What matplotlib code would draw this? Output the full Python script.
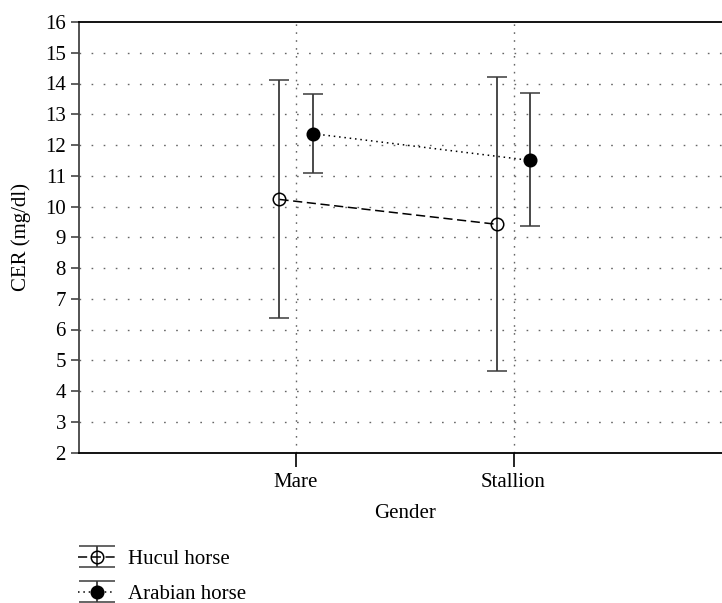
import matplotlib
matplotlib.use("Agg")
import matplotlib.pyplot as plt
import numpy as np

categories = ["Mare", "Stallion"]
hucul_mean = [10.23, 9.42]
hucul_upper = [14.13, 14.22]
hucul_lower = [6.39, 4.66]
arabian_mean = [12.37, 11.50]
arabian_upper = [13.66, 13.70]
arabian_lower = [11.08, 9.35]
yticks = list(range(2, 17))

plt.rcParams['font.family'] = ['Liberation Serif', 'DejaVu Serif']
plt.rcParams['font.size'] = 15

W, H = 722, 603
fig = plt.figure(figsize=(W / 100, H / 100), dpi=100)
left, right, top, bottom = 78.5, 731, 22, 452.5
ax = fig.add_axes([left / W, (H - bottom) / H, (right - left) / W, (bottom - top) / H])

x = np.arange(1, len(categories) + 1)
off = 0.076
ecol = '#3a3a3a'
hstyle = (0, (6, 3))
astyle = (0, (1, 2.5))

def yerr(mean, lo, up):
    m = np.array(mean); return [m - np.array(lo), np.array(up) - m]

common = dict(fmt='o', color='black', ecolor=ecol, elinewidth=1.3, capthick=1.3, capsize=7.5,
              markersize=9, markeredgecolor='black', markeredgewidth=1.1, linewidth=1.1, zorder=3)
h1 = ax.errorbar(x - off, hucul_mean, yerr=yerr(hucul_mean, hucul_lower, hucul_upper),
                 markerfacecolor='none', linestyle=hstyle, **common)
h2 = ax.errorbar(x + off, arabian_mean, yerr=yerr(arabian_mean, arabian_lower, arabian_upper),
                 markerfacecolor='black', linestyle=astyle, **common)

ax.set_xlim(0, 3)
ax.set_ylim(2, 16)
ax.set_yticks(yticks)
ax.set_xticks(x)
ax.set_xticklabels(categories)

for yv in yticks[1:-1]:
    ax.axhline(yv, color='#666666', linestyle=(0, (1.2, 7.5)), linewidth=1.0, zorder=1)
for xv in x:
    ax.axvline(xv, color='#666666', linestyle=(0, (1.2, 4.5)), linewidth=1.0, zorder=1)

ax.spines['right'].set_visible(False)
ax.spines['left'].set_color('#444444')
ax.spines['left'].set_linewidth(1.3)
ax.spines['top'].set_linewidth(1.3)
ax.spines['bottom'].set_linewidth(1.3)
ax.tick_params(axis='y', length=6, width=1.2, color='#444444', pad=3)
ax.tick_params(axis='x', length=10, width=1.2, pad=5)

ax.set_ylabel('CER (mg/dl)', labelpad=10)
ax.set_xlabel('Gender')
ax.xaxis.set_label_coords((405 - left) / (right - left), -(504 - bottom) / (bottom - top))

# widen caps temporarily for the legend handles only
for h in (h1, h2):
    for c in h[1]:
        c.set_markersize(26)
fig.legend(handles=[h1, h2], labels=['Hucul horse', 'Arabian horse'],
           loc='upper left', bbox_to_anchor=(70 / W, (H - 541) / H),
           frameon=False, handlelength=1.75, handletextpad=0.65, labelspacing=0.75,
           borderaxespad=0)
for h in (h1, h2):
    for c in h[1]:
        c.set_markersize(15)

fig.savefig('out.png', dpi=100)
